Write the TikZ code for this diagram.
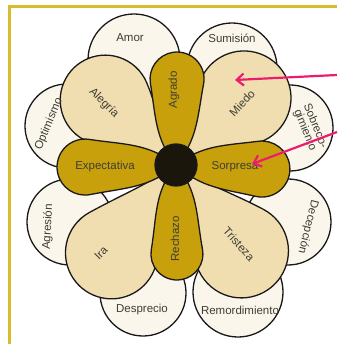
\documentclass[tikz,border=0pt]{standalone}
\usepackage{fontspec}
\setmainfont{Liberation Sans}
\usetikzlibrary{arrows.meta}
\definecolor{gold}{RGB}{200,160,12}
\definecolor{beige}{RGB}{241,222,176}
\definecolor{cream}{RGB}{250,246,236}
\definecolor{frameyellow}{RGB}{216,188,44}
\definecolor{pinkarrow}{RGB}{236,28,110}
\definecolor{txt}{RGB}{62,62,52}
\definecolor{centerdark}{RGB}{26,22,12}
\newcommand\drawpetal[6]{%
 \pgfmathsetmacro\pPx{#2+#3*cos(#4)}%
 \pgfmathsetmacro\pPy{#3*sin(#4)}%
 \pgfmathsetmacro\pPyn{-\pPy}%
 \pgfmathsetmacro\pK{0.39*veclen(\pPx,\pPy)}%
 \pgfmathsetmacro\pCx{\pK*cos(#5)}%
 \pgfmathsetmacro\pCy{\pK*sin(#5)}%
 \pgfmathsetmacro\pCyn{-\pCy}%
 \pgfmathsetmacro\pDx{\pPx-\pK*sin(#4)}%
 \pgfmathsetmacro\pDy{\pPy+\pK*cos(#4)}%
 \pgfmathsetmacro\pDyn{-\pDy}%
 \pgfmathsetmacro\pEnd{-#4}%
 \begin{scope}[rotate=#1]
 \draw[petal, fill=#6] (0,0) .. controls (\pCx,\pCy) and (\pDx,\pDy) .. (\pPx,\pPy)
   arc[start angle=#4, end angle=\pEnd, radius=#3]
   .. controls (\pDx,\pDyn) and (\pCx,\pCyn) .. (0,0) -- cycle;
 \end{scope}}
\tikzset{
  petal/.style={draw=black!90, line width=1.3pt, line join=round},
  outercirc/.style={petal, fill=cream},
  lbl/.style={text=txt, font=\fontsize{11.5}{11}\selectfont, inner sep=0pt, align=center},
  arr/.style={draw=pinkarrow, line width=2.2pt, -{Straight Barb[length=7pt,width=12pt]}},
}
\begin{document}
\begin{tikzpicture}[x=1pt,y=1pt]
\useasboundingbox (-176,-179) rectangle (161,165);
% frame
\draw[frameyellow, line width=3pt] (-166.5,-179) -- (-166.5,158) -- (161,158);
% outer circles
\draw[outercirc] (-42,105) circle[radius=46];
\draw[outercirc] (56,97) circle[radius=45];
\draw[outercirc] (114,37) circle[radius=43];
\draw[outercirc] (112,-57) circle[radius=43];
\draw[outercirc] (62,-127) circle[radius=45];
\draw[outercirc] (-33,-128) circle[radius=43];
\draw[outercirc] (-106,-57) circle[radius=43];
\draw[outercirc] (-109,39) circle[radius=42];
% middle petals
\drawpetal{137.5}{96}{45}{115}{20}{beige}
\drawpetal{44.6}{95.5}{47}{115}{20}{beige}
\drawpetal{-52.7}{108}{47}{115}{20}{beige}
\drawpetal{-126.3}{109}{46}{115}{20}{beige}
% inner petals
\drawpetal{89.3}{86}{27}{100}{40}{gold}
\drawpetal{-89.4}{89}{26}{100}{40}{gold}
\drawpetal{181.3}{91}{28}{100}{40}{gold}
\drawpetal{-2.7}{86}{28}{100}{40}{gold}
% centre
\draw[petal, fill=centerdark] (0,0) circle[radius=21];
% labels
\node[lbl] (amor) at (-46,127) {Amor};
\node[lbl] (sumision) at (56,127) {Sumisión};
\node[lbl, rotate=67] (optimismo) at (-127,41) {Optimismo};
\node[lbl, rotate=87] (agresion) at (-128,-62) {Agresión};
\node[lbl, rotate=-68] (sobrecog) at (134,37) {Sobreco-\\gimiento};
\node[lbl, rotate=-104] (decepcion) at (132,-62) {Decepción};
\node[lbl] (desprecio) at (-34,-145) {Desprecio};
\node[lbl] (remord) at (64,-145) {Remordimiento};
\node[lbl, rotate=-45] (alegria) at (-72,62) {Alegría};
\node[lbl, rotate=47] (miedo) at (66,62) {Miedo};
\node[lbl, rotate=-48] (tristeza) at (63,-79) {Tristeza};
\node[lbl, rotate=45] (ira) at (-75,-88) {Ira};
\node[lbl, rotate=90] (agrado) at (-2,75) {Agrado};
\node[lbl, rotate=90] (rechazo) at (-1,-74) {Rechazo};
\node[lbl] (expectativa) at (-71,-2) {Expectativa};
\node[lbl] (sorpresa) at (59,-2) {Sorpresa};
% arrows
\coordinate (a1s) at (161,90);
\coordinate (a1e) at (59,85);
\coordinate (a2s) at (161,33);
\coordinate (a2e) at (76,1);
\draw[arr] (a1s) -- (a1e);
\draw[arr] (a2s) -- (a2e);
\end{tikzpicture}
\end{document}
